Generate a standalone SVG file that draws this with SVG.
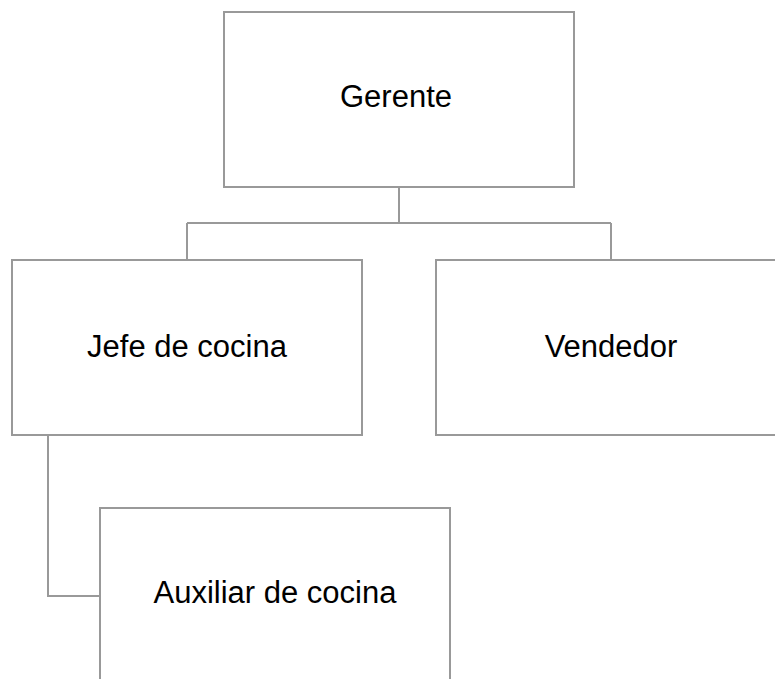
<svg xmlns="http://www.w3.org/2000/svg" width="775" height="679" viewBox="0 0 775 679">
<style>
.box{fill:#ffffff;stroke:#999999;stroke-width:2}
.conn{fill:none;stroke:#999999;stroke-width:2}
.lbl{font-family:"Liberation Sans",Arial,sans-serif;font-size:31px;fill:#000000;text-anchor:middle}
</style>
<rect width="775" height="679" fill="#ffffff"/>
<g id="connectors">
<path class="conn" d="M399,187 V223 M187,223 H611 M187,223 V260 M611,223 V260"/>
<path class="conn" d="M48,435 V596 H100"/>
</g>
<g id="gerente">
<rect class="box" x="224" y="12" width="350" height="175"/>
<text class="lbl" x="396" y="107">Gerente</text>
</g>
<g id="jefe">
<rect class="box" x="12" y="260" width="350" height="175"/>
<text class="lbl" x="187" y="357">Jefe de cocina</text>
</g>
<g id="vendedor">
<rect class="box" x="436" y="260" width="350" height="175"/>
<text class="lbl" x="611" y="357">Vendedor</text>
</g>
<g id="auxiliar">
<rect class="box" x="100" y="508" width="350" height="175"/>
<text class="lbl" x="275" y="603">Auxiliar de cocina</text>
</g>
</svg>
